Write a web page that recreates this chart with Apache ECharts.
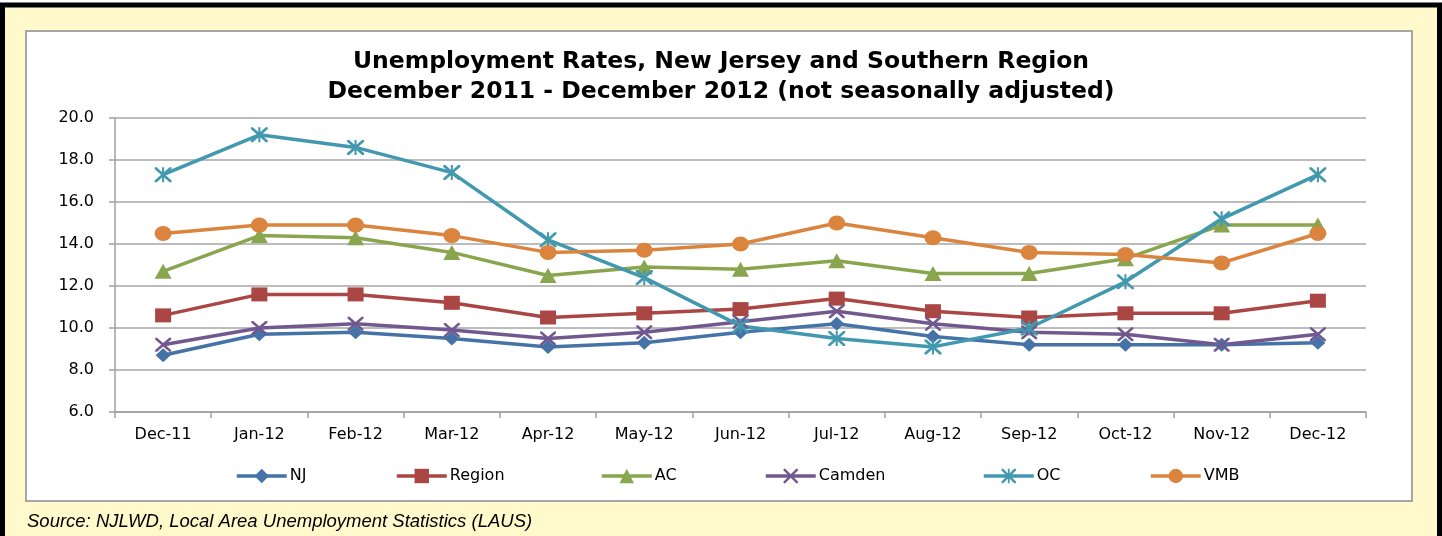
<!DOCTYPE html>
<html><head><meta charset="utf-8">
<script src="https://cdn.jsdelivr.net/npm/echarts@6/dist/echarts.min.js"></script>
<style>html,body{margin:0;padding:0;background:#fff;}#c{width:1442px;height:536px;}</style>
</head><body><div id="c"></div>
<script>
var categories = ['Dec-11','Jan-12','Feb-12','Mar-12','Apr-12','May-12','Jun-12','Jul-12','Aug-12','Sep-12','Oct-12','Nov-12','Dec-12'];
var NJ     = [8.7, 9.7, 9.8, 9.5, 9.1, 9.3, 9.8, 10.2, 9.6, 9.2, 9.2, 9.2, 9.3];
var Region = [10.6, 11.6, 11.6, 11.2, 10.5, 10.7, 10.9, 11.4, 10.8, 10.5, 10.7, 10.7, 11.3];
var AC     = [12.7, 14.4, 14.3, 13.6, 12.5, 12.9, 12.8, 13.2, 12.6, 12.6, 13.3, 14.9, 14.9];
var Camden = [9.2, 10.0, 10.2, 9.9, 9.5, 9.8, 10.3, 10.8, 10.2, 9.8, 9.7, 9.2, 9.7];
var OC     = [17.3, 19.2, 18.6, 17.4, 14.2, 12.4, 10.1, 9.5, 9.1, 10.0, 12.2, 15.2, 17.3];
var VMB    = [14.5, 14.9, 14.9, 14.4, 13.6, 13.7, 14.0, 15.0, 14.3, 13.6, 13.5, 13.1, 14.5];
var yTicks = [6, 8, 10, 12, 14, 16, 18, 20];
var titleLines = ['Unemployment Rates, New Jersey and Southern Region', 'December 2011 - December 2012 (not seasonally adjusted)'];
var sourceText = 'Source: NJLWD, Local Area Unemployment Statistics (LAUS)';

var xPath = 'path://M0,0 L1.2,0 L5,3.8 L8.8,0 L10,0 L10,1.2 L6.2,5 L10,8.8 L10,10 L8.8,10 L5,6.2 L1.2,10 L0,10 L0,8.8 L3.8,5 L0,1.2 Z';
var starPath = 'path://M0,0 L1.2,0 L5,3.8 L8.8,0 L10,0 L10,1.2 L6.2,5 L10,8.8 L10,10 L8.8,10 L5,6.2 L1.2,10 L0,10 L0,8.8 L3.8,5 L0,1.2 Z M4.4,0 L5.6,0 L5.6,10 L4.4,10 Z';

var defs = [
  {name:'NJ', data:NJ, color:'#4572A7', symbol:'diamond', size:[15,14], left:230},
  {name:'Region', data:Region, color:'#AA4643', symbol:'rect', size:[16,14], left:390},
  {name:'AC', data:AC, color:'#89A54E', symbol:'triangle', size:[17,15], left:595},
  {name:'Camden', data:Camden, color:'#71588F', symbol:xPath, size:[16,14], left:759},
  {name:'OC', data:OC, color:'#4198AF', symbol:starPath, size:[17,15], left:977},
  {name:'VMB', data:VMB, color:'#DB843D', symbol:'circle', size:[17,15], left:1144}
];

var font = 'DejaVu Sans';
var chart = echarts.init(document.getElementById('c'));
chart.setOption({
  animation:false,
  backgroundColor:'#ffffff',
  graphic:[
    {type:'rect', z:-10, shape:{x:2.5, y:5, width:1437, height:540}, style:{fill:'#FFF9CC', stroke:'#000', lineWidth:5}},
    {type:'rect', z:-9, shape:{x:26, y:31, width:1386, height:470}, style:{fill:'#ffffff', stroke:'#A6A6A6', lineWidth:2}},
    {type:'text', left:27, top:512, style:{text:sourceText, font:'italic 18.5px "Liberation Sans"', fill:'#000'}}
  ],
  title:{
    text:titleLines.join('\n'), left:'center', top:42,
    textStyle:{fontFamily:font, fontWeight:'bold', fontSize:23.5, lineHeight:30, color:'#000'}
  },
  legend: defs.map(function(d){
    return {data:[d.name], left:d.left, top:463, itemWidth:50, itemHeight:18, itemGap:0,
      lineStyle:{width:3.5},
      textStyle:{fontFamily:font, fontSize:16, color:'#000', padding:[0,0,0,-2]}};
  }),
  grid:{left:115, right:76, top:118, bottom:124},
  xAxis:{type:'category', data:categories, boundaryGap:true,
    axisLine:{lineStyle:{color:'#A0A0A0', width:1.5}},
    axisTick:{show:true, length:6, lineStyle:{color:'#A0A0A0', width:1.5}},
    axisLabel:{fontFamily:font, fontSize:16, color:'#000', margin:15}},
  yAxis:{type:'value', min:yTicks[0], max:yTicks[yTicks.length-1], interval:2,
    axisLine:{show:true, lineStyle:{color:'#A0A0A0', width:1.5}},
    axisTick:{show:true, length:6, lineStyle:{color:'#A0A0A0', width:1.5}},
    splitLine:{lineStyle:{color:'#A6A6A6', width:1.5}},
    axisLabel:{fontFamily:font, fontSize:16, color:'#000', margin:21, formatter:function(v){return v.toFixed(1);}}},
  series: defs.map(function(d){
    return {name:d.name, type:'line', data:d.data, symbol:d.symbol, symbolSize:d.size,
      lineStyle:{color:d.color, width:3.5}, itemStyle:{color:d.color, borderWidth:0}, color:d.color};
  })
});
</script></body></html>
